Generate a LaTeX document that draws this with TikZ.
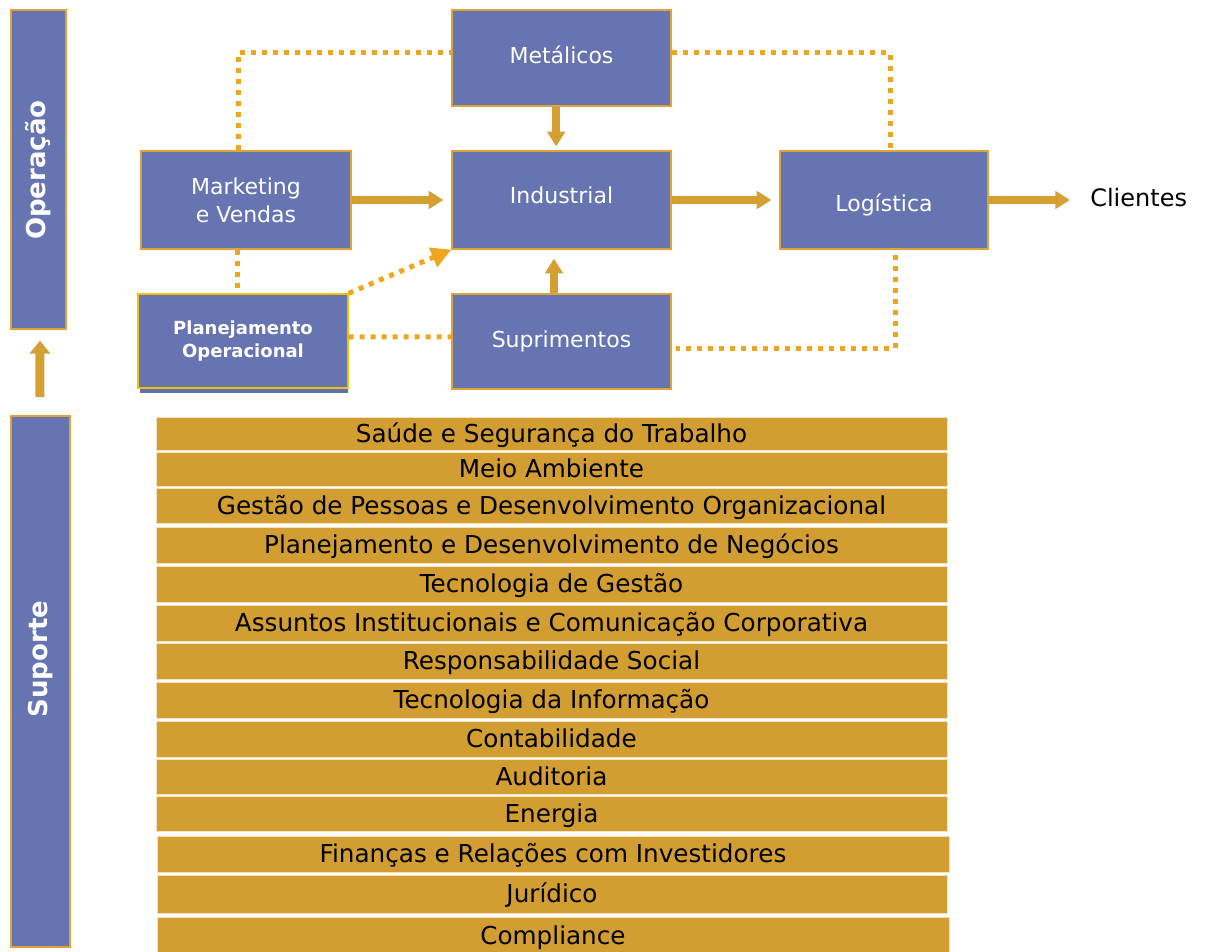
\documentclass[tikz,border=0pt]{standalone}
\usepackage{fontspec}
\setmainfont{DejaVu Sans}
\usetikzlibrary{arrows.meta}
\definecolor{boxblue}{HTML}{6675B1}
\definecolor{barorange}{HTML}{D29D31}
\definecolor{arrowc}{HTML}{D4A034}
\definecolor{dotc}{HTML}{F0A520}
\definecolor{edgec}{HTML}{E0A33A}
\definecolor{planedge}{HTML}{F2C200}
\definecolor{shadowc}{HTML}{6070B0}
\definecolor{baredge}{HTML}{F2E2C0}
\begin{document}
\begin{tikzpicture}[x=0.75pt,y=-0.75pt,
 box/.style={draw=edgec,line width=0.9pt,fill=boxblue,inner sep=0pt,text=white,align=center,font=\fontsize{16.5}{21.25}\selectfont},
 bar/.style={draw=baredge,line width=0.6pt,fill=barorange,inner sep=0pt,text=black,font=\fontsize{18.5}{22}\selectfont,text height=13.5pt,text depth=1.5pt},
 sidebar/.style={draw=edgec,line width=0.9pt,fill=boxblue,inner sep=0pt},
 sidetext/.style={rotate=90,text=white,font=\bfseries\fontsize{19.5}{20}\selectfont},
 flow/.style={draw=arrowc,line width=5.8pt,-{Triangle[length=11pt,width=13pt]}},
 dotline/.style={draw=dotc,line width=3.75pt,dash pattern=on 3.75pt off 4.5pt},
]
\useasboundingbox (0,0) rectangle (1206,952);

% side bars
\node[sidebar,minimum width=55*0.75pt,minimum height=319*0.75pt] (opbar) at (38.5,169.5) {};
\node[sidetext] at (38.5,170) {Operação};
\node[sidebar,minimum width=59*0.75pt,minimum height=531*0.75pt] (supbar) at (40.5,681.5) {};
\node[sidetext] at (40.5,659) {Suporte};
\coordinate (upstart) at (40,397);
\draw[draw=arrowc,line width=6.75pt,-{Triangle[length=9.75pt,width=15pt]},shorten >=8.25pt] (upstart) -- ([xshift=1.1pt]opbar.south);

% process boxes
\node[box,minimum width=219*0.75pt,minimum height=96*0.75pt,text height=12.5pt,text depth=4.5pt] (met) at (561.5,58) {Metálicos};
\node[box,minimum width=210*0.75pt,minimum height=98*0.75pt] (mkt) at (246,200) {Marketing\\e Vendas};
\node[box,minimum width=219*0.75pt,minimum height=98*0.75pt,text height=12.5pt,text depth=6.75pt] (ind) at (561.5,200) {Industrial};
\node[box,minimum width=208*0.75pt,minimum height=98*0.75pt,text height=17pt,text depth=0pt] (log) at (884,200) {Logística};
\node[box,minimum width=219*0.75pt,minimum height=95*0.75pt,text height=12.5pt,text depth=3.5pt] (sup) at (561.5,341.5) {Suprimentos};
\fill[shadowc] (140,382) rectangle (348,393);
\node[box,draw=planedge,line width=1.1pt,minimum width=210*0.75pt,minimum height=94*0.75pt,font=\bfseries\fontsize{13.5}{16.75}\selectfont] (plan) at (243,341) {Planejamento\\Operacional};
\node[anchor=west,inner sep=0pt,font=\fontsize{18}{20}\selectfont] (cli) at (1090,198) {Clientes};

% dotted connectors
\draw[dotline] ([xshift=-6pt]mkt.north) |- ([yshift=3.75pt]met.west);
\draw[dotline] ([yshift=3.75pt]met.east) -| ([xshift=4.5pt]log.north);
\draw[dotline,shorten <=4pt,shorten >=3pt] ([xshift=8.25pt]log.south) |- ([yshift=-4.9pt]sup.east);
\draw[dotline] ([xshift=-6.75pt]mkt.south) -- ([xshift=-4.5pt]plan.north);
\draw[dotline] ([yshift=3pt]plan.east) -- ([yshift=3.4pt]sup.west);
\draw[dotline,-{Triangle[length=15pt,width=15pt]}] (plan.north east) -- (ind.south west);

% solid flows
\draw[flow,shorten >=6pt] (mkt.east) -- (ind.west);
\draw[flow,line width=6.2pt,shorten >=3pt] ([xshift=-4pt]met.south) -- ([xshift=-4pt]ind.north);
\draw[flow,line width=6.2pt,shorten >=6.75pt] ([xshift=-5.6pt]sup.north) -- ([xshift=-5.6pt]ind.south);
\draw[flow,shorten >=6pt] (ind.east) -- (log.west);
\draw[flow,shorten >=15pt] (log.east) -- (log.east -| cli.west);

% support bars
\foreach \i/\ya/\yb/\xa/\xb/\t in {
 1/416/449/156/947/Saúde e Segurança do Trabalho,
 2/451/485/156/947/Meio Ambiente,
 3/487/522/156/947/Gestão de Pessoas e Desenvolvimento Organizacional,
 4/526/562/156/947/Planejamento e Desenvolvimento de Negócios,
 5/565/601/156/947/Tecnologia de Gestão,
 6/604/640/156/947/Assuntos Institucionais e Comunicação Corporativa,
 7/642/678/156/947/Responsabilidade Social,
 8/681/717/156/947/Tecnologia da Informação,
 9/720/756/156/947/Contabilidade,
 10/758/793/156/947/Auditoria,
 11/795/830/156/947/Energia,
 12/835/871/157/949/Finanças e Relações com Investidores,
 13/874/912/157/947/Jurídico,
 14/916/953/157/949/Compliance}{
 \node[bar,minimum width={(\xb-\xa)*0.75pt},minimum height={(\yb-\ya)*0.75pt}] (b\i) at ({(\xa+\xb)/2},{(\ya+\yb)/2+1.5}) {\t};
}
\end{tikzpicture}
\end{document}
